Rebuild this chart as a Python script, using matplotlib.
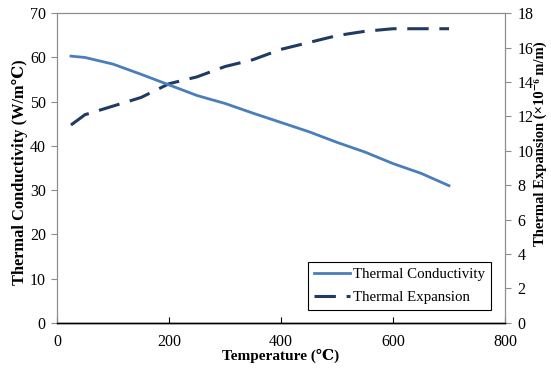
import matplotlib
matplotlib.use("Agg")
import matplotlib.pyplot as plt

plt.rcParams["font.family"] = ["Liberation Serif", "DejaVu Serif"]

temperature = [25, 50, 100, 150, 200, 250, 300, 350, 400, 450, 500, 550, 600, 650, 700]
conductivity = [60.3, 60.0, 58.5, 56.2, 53.8, 51.4, 49.6, 47.4, 45.3, 43.2, 40.8, 38.6, 36.0, 33.8, 31.0]
expansion = [11.5, 12.1, 12.6, 13.1, 13.9, 14.3, 14.9, 15.3, 15.9, 16.3, 16.7, 16.95, 17.1, 17.1, 17.1]

fig = plt.figure(figsize=(5.51, 3.68), dpi=100)
ax1 = fig.add_axes([0.1034, 0.123, 0.8131, 0.841])
ax2 = ax1.twinx()

l1, = ax1.plot(temperature, conductivity, color="#4a7ebb", lw=2.0, label="Thermal Conductivity")
l2, = ax2.plot(temperature, expansion, color="#1f3b63", lw=2.2, dashes=(7, 3.5), label="Thermal Expansion")

ax1.set_xlim(0, 800)
ax1.set_ylim(0, 70)
ax2.set_ylim(0, 18)
ax1.set_xticks(range(0, 801, 200))
ax1.set_yticks(range(0, 71, 10))
ax2.set_yticks(range(0, 19, 2))

for a in (ax1, ax2):
    for s in ("top", "left", "right"):
        a.spines[s].set_color("#8c8c8c")
        a.spines[s].set_linewidth(0.8)
    a.spines["bottom"].set_color("black")
    a.spines["bottom"].set_linewidth(1.0)

ax1.tick_params(axis="x", direction="in", length=4, labelsize=11.5, color="black", pad=8)
ax1.tick_params(axis="y", direction="out", length=4, labelsize=11.5, color="#8c8c8c", pad=4)
ax2.tick_params(axis="y", direction="out", length=4, labelsize=11.5, color="#8c8c8c", pad=5)

ax1.set_xlabel("Temperature (℃)", fontsize=11, fontweight="bold")
ax1.xaxis.set_label_coords(0.5, -0.083)
ax1.set_ylabel("Thermal Conductivity (W/m℃)", fontsize=11.8, fontweight="bold")
ax1.yaxis.set_label_coords(-0.064, 0.487)
ax2.set_ylabel("Thermal Expansion (×10⁻⁶ m/m)", fontsize=10.5, fontweight="bold", rotation=90)
ax2.yaxis.set_label_coords(1.064, 0.58)

leg = ax1.legend([l1, l2], ["Thermal Conductivity", "Thermal Expansion"],
                 loc="lower right", bbox_to_anchor=(0.968, 0.04), borderaxespad=0,
                 fancybox=False, edgecolor="black", fontsize=10.7, handlelength=2.4,
                 handletextpad=0.2, labelspacing=0.65, borderpad=0.4, framealpha=1)
leg.get_frame().set_linewidth(0.8)
ax1.set_zorder(ax2.get_zorder() + 1)
ax1.patch.set_visible(False)

fig.savefig("out.png", dpi=100)
